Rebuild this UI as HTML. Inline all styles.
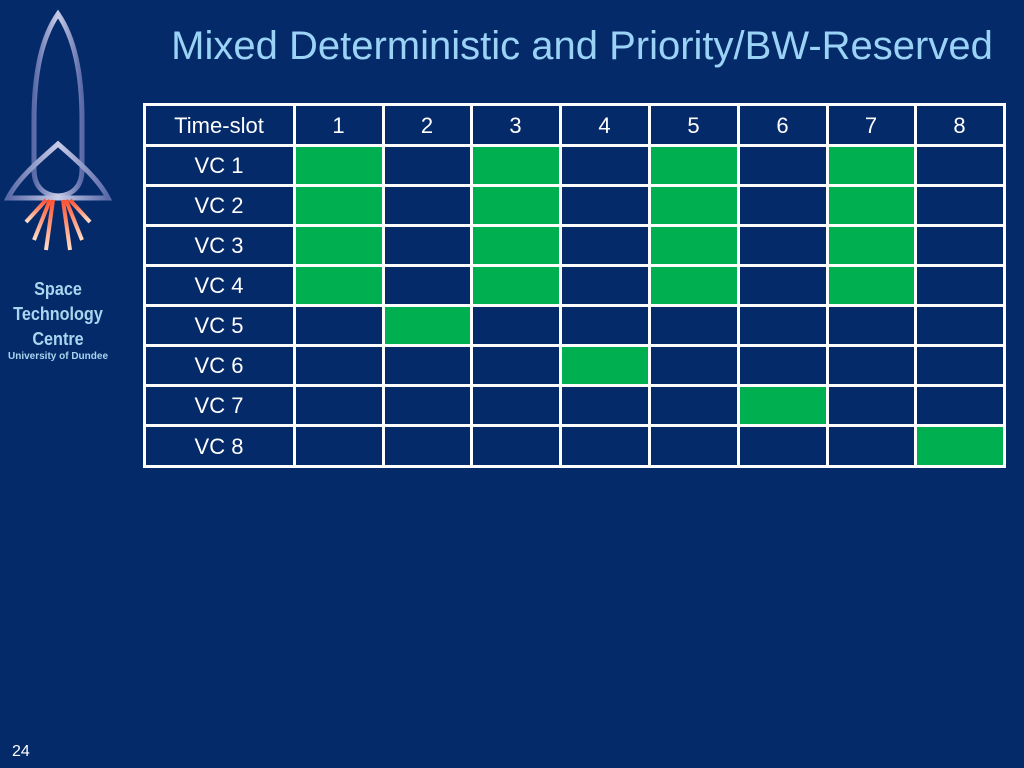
<!DOCTYPE html>
<html><head><meta charset="utf-8"><style>
body{margin:0;width:1024px;height:768px;background:#052a6a;position:relative;overflow:hidden;font-family:"Liberation Sans",sans-serif}
.t{position:absolute;left:120px;width:924px;top:24px;text-align:center;color:#9ad3f5;font-size:40px;white-space:nowrap}
.c{position:absolute;color:#fff;font-size:22px;display:flex;align-items:center;justify-content:center;box-sizing:border-box}
.g{background:#00b050}
.h{position:absolute;background:#fff}
</style></head><body>
<div class="t">Mixed Deterministic and Priority/BW-Reserved</div>
<svg style="position:absolute;left:0;top:0" width="130" height="300">
<defs><linearGradient id="m" x1="0" x2="1"><stop offset="0" stop-color="#5a6aa8"/><stop offset=".5" stop-color="#c8cce8"/><stop offset="1" stop-color="#5a6aa8"/></linearGradient>
<linearGradient id="f" x1="0" y1="0" x2="0" y2="1"><stop offset="0" stop-color="#ff5030"/><stop offset="1" stop-color="#ffe0c8"/></linearGradient></defs>
<path d="M58 14 C40 40 34 80 34 120 L34 170 C34 185 42 195 58 196 C74 195 82 185 82 170 L82 120 C82 80 76 40 58 14Z" fill="none" stroke="url(#m)" stroke-width="5"/>
<path d="M58 144 C40 160 18 178 8 198 L108 198 C98 178 76 160 58 144Z" fill="none" stroke="url(#m)" stroke-width="5"/>
<g stroke="url(#f)" stroke-width="4"><line x1="58" y1="200" x2="58" y2="258"/><line x1="53" y1="200" x2="46" y2="250"/><line x1="63" y1="200" x2="70" y2="250"/><line x1="50" y1="200" x2="34" y2="240"/><line x1="66" y1="200" x2="82" y2="240"/><line x1="46" y1="200" x2="26" y2="222"/><line x1="70" y1="200" x2="90" y2="222"/></g>
</svg>
<div style="position:absolute;left:0;width:116px;top:277px;text-align:center;color:#a9d6ef;font-weight:bold;font-size:18px;line-height:25px;transform:scaleX(0.9)">Space<br>Technology<br>Centre</div>
<div style="position:absolute;left:0;width:116px;top:351px;text-align:center;color:#a9d6ef;font-weight:bold;font-size:10px">University of Dundee</div>
<div style="position:absolute;left:12px;top:743px;color:#fff;font-size:16px">24</div>
<div id="tb"></div>
<script>
var xs=[144,294,383,471,560,649,738,827,915,1004],ys=[104,145,185,225,265,305,345,385,425,466];
var green=[[],[1,3,5,7],[1,3,5,7],[1,3,5,7],[1,3,5,7],[2],[4],[6],[8]];
var h='';
for(var r=0;r<9;r++)for(var c=0;c<9;c++){
 var txt='';if(r==0)txt=c==0?'Time-slot':c;else if(c==0)txt='VC '+r;
 var g=green[r].indexOf(c)>=0;
 h+='<div class="c'+(g?' g':'')+'" style="left:'+xs[c]+'px;top:'+(ys[r]+1)+'px;width:'+(xs[c+1]-xs[c])+'px;height:'+(ys[r+1]-ys[r])+'px">'+txt+'</div>';
}
for(var i=0;i<xs.length;i++)h+='<div class="h" style="left:'+(xs[i]-1)+'px;top:103px;width:3px;height:365px"></div>';
for(var i=0;i<ys.length;i++)h+='<div class="h" style="left:143px;top:'+(ys[i]-1)+'px;width:863px;height:3px"></div>';
document.getElementById('tb').innerHTML=h;
</script>
</body></html>
